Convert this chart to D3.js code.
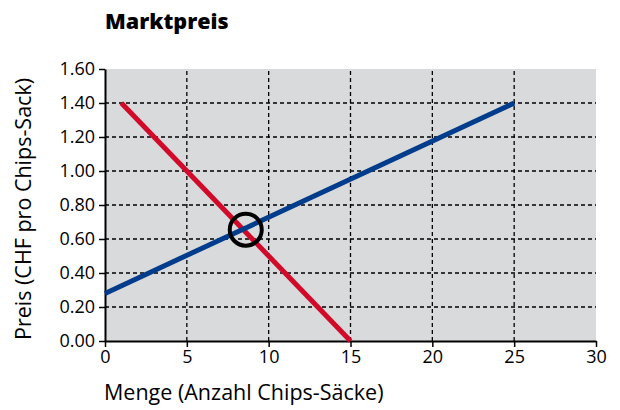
<!DOCTYPE html>
<html>
<head>
<meta charset="utf-8">
<script src="https://cdn.jsdelivr.net/npm/d3@7"></script>
<style>
  body { margin: 0; background: #fff; }
  text { font-family: "Open Sans", sans-serif; fill: #000; }
</style>
</head>
<body>
<div id="chart"></div>
<script>
// Data
const xTicks = [0, 5, 10, 15, 20, 25, 30];
const yTicks = [0, 0.2, 0.4, 0.6, 0.8, 1.0, 1.2, 1.4, 1.6];
const demand = [[1, 1.40], [15, 0]];      // red
const supply = [[0, 0.28], [25, 1.40]];   // blue
const marketPoint = [8.6, 0.655];

const width = 620, height = 410;
const margin = { top: 69, right: 24, bottom: 69, left: 105 };

const svg = d3.select('#chart')
    .append('svg')
    .attr('width', width)
    .attr('height', height);

const x = d3.scaleLinear().domain([0, 30]).range([margin.left, width - margin.right]);
const y = d3.scaleLinear().domain([0, 1.6]).range([height - margin.bottom, margin.top]);

// Plot background
svg.append('rect')
    .attr('x', x(0)).attr('y', y(1.6))
    .attr('width', x(30) - x(0)).attr('height', y(0) - y(1.6))
    .attr('fill', '#d9dadc');

// Grid
svg.append('g').selectAll('line')
    .data(yTicks.filter(d => d > 0 && d < 1.6))
    .enter().append('line')
    .attr('x1', x(0)).attr('x2', x(30))
    .attr('y1', d => y(d)).attr('y2', d => y(d))
    .attr('stroke', '#000').attr('stroke-width', 1.3)
    .attr('stroke-dasharray', '4,3');

svg.append('g').selectAll('line')
    .data(xTicks.filter(d => d > 0 && d < 30))
    .enter().append('line')
    .attr('x1', d => x(d)).attr('x2', d => x(d))
    .attr('y1', y(0)).attr('y2', y(1.6))
    .attr('stroke', '#000').attr('stroke-width', 1.3)
    .attr('stroke-dasharray', '4,3');

// Axes
const xAxis = svg.append('g')
    .attr('transform', `translate(0,${y(0)})`)
    .call(d3.axisBottom(x).tickValues(xTicks).tickSize(6).tickPadding(3).tickSizeOuter(0));
const yAxis = svg.append('g')
    .attr('transform', `translate(${x(0)},0)`)
    .call(d3.axisLeft(y).tickValues(yTicks).tickFormat(d3.format('.2f')).tickSize(6).tickPadding(4).tickSizeOuter(0));

[xAxis, yAxis].forEach(a => {
    a.select('.domain').attr('stroke-width', 2);
    a.selectAll('.tick line').attr('stroke-width', 1.5);
    a.selectAll('text').attr('font-size', 18).attr('font-family', '"Open Sans", sans-serif');
});

// Lines
const line = d3.line().x(d => x(d[0])).y(d => y(d[1]));
svg.append('path').datum(demand)
    .attr('d', line).attr('fill', 'none')
    .attr('stroke', '#d20a2a').attr('stroke-width', 5);
svg.append('path').datum(supply)
    .attr('d', line).attr('fill', 'none')
    .attr('stroke', '#003c8c').attr('stroke-width', 5);

// Market price circle
svg.append('circle')
    .attr('cx', x(marketPoint[0])).attr('cy', y(marketPoint[1]))
    .attr('r', 16)
    .attr('fill', 'none').attr('stroke', '#000').attr('stroke-width', 4);

// Title and labels
svg.append('text')
    .attr('x', 105).attr('y', 29)
    .attr('font-size', 21.5).attr('font-weight', 800)
    .text('Marktpreis');

svg.append('text')
    .attr('x', 104).attr('y', 400)
    .attr('font-size', 21.5)
    .text('Menge (Anzahl Chips-Säcke)');

svg.append('text')
    .attr('transform', `translate(31,${(y(0) + y(1.6)) / 2 + 4}) rotate(-90)`)
    .attr('text-anchor', 'middle')
    .attr('font-size', 21.5)
    .text('Preis (CHF pro Chips-Sack)');
</script>
</body>
</html>
